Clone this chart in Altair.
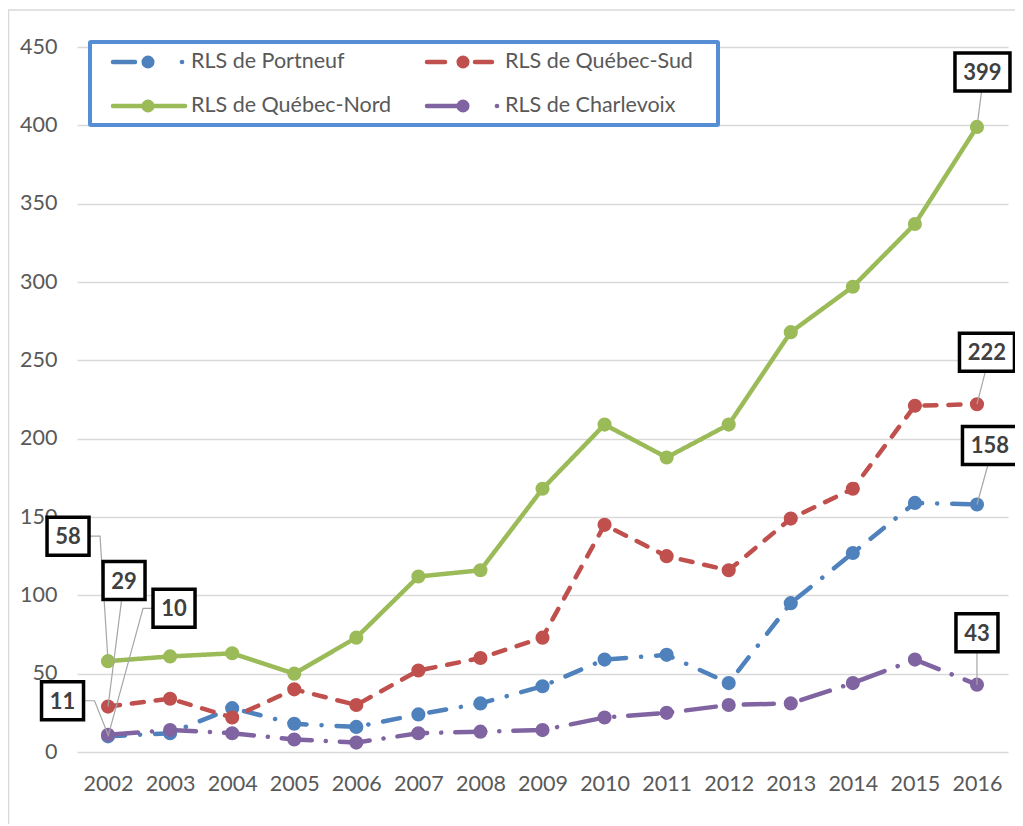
import altair as alt
import pandas as pd

# ---------------- data ----------------
years = list(range(2002, 2017))
series_names = ["RLS de Portneuf", "RLS de Québec-Sud", "RLS de Québec-Nord", "RLS de Charlevoix"]
portneuf = [10, 12, 28, 18, 16, 24, 31, 42, 59, 62, 44, 95, 127, 159, 158]
quebec_sud = [29, 34, 22, 40, 30, 52, 60, 73, 145, 125, 116, 149, 168, 221, 222]
quebec_nord = [58, 61, 63, 50, 73, 112, 116, 168, 209, 188, 209, 268, 297, 337, 399]
charlevoix = [11, 14, 12, 8, 6, 12, 13, 14, 22, 25, 30, 31, 44, 59, 43]
y_ticks = [0, 50, 100, 150, 200, 250, 300, 350, 400, 450]

colors = ["#4F81BD", "#C0504D", "#9BBB59", "#8064A2"]
dashes = [[17, 15, 0.1, 15], [12, 12], [1, 0], [30, 14, 0.1, 14]]

# data labels (series, year) and box offsets (pixels from the point)
lab_series = ["RLS de Québec-Nord", "RLS de Québec-Sud", "RLS de Portneuf", "RLS de Charlevoix",
              "RLS de Québec-Nord", "RLS de Québec-Sud", "RLS de Portneuf", "RLS de Charlevoix"]
lab_year = [2002, 2002, 2002, 2002, 2016, 2016, 2016, 2016]
lab_dx = [-40, 16, 66, -45.5, 5.5, 10, 13, 0]
lab_dy = [-125, -126, -128, -34, -55, -52, -59, -52]

# ---------------- layout ----------------
W, H = 931, 705
X0, X1 = 2001.5, 2016.5
Y0, Y1 = 0, 450
FONT = "Lato"


def xd(px):  # plot pixel -> year units
    return X0 + px / W * (X1 - X0)


def yd(py):  # plot pixel -> value units
    return Y1 - py / H * (Y1 - Y0)


def xp(v):
    return (v - X0) / (X1 - X0) * W


def yp(v):
    return (Y1 - v) / (Y1 - Y0) * H


series_values = dict(zip(series_names, [portneuf, quebec_sud, quebec_nord, charlevoix]))
rows = []
for s in series_names:
    for yr, v in zip(years, series_values[s]):
        rows.append({"series": s, "year": yr, "value": v})
df = pd.DataFrame(rows)

xscale = alt.Scale(domain=[X0, X1], nice=False, zero=False)
yscale = alt.Scale(domain=[Y0, Y1], nice=False, zero=False)
cscale = alt.Scale(domain=series_names, range=colors)
dscale = alt.Scale(domain=series_names, range=dashes)

xaxis = alt.Axis(values=years, format="d", title=None, grid=False, domain=False, ticks=False,
                 labelFont=FONT, labelFontSize=21.5, labelColor="#595959", labelPadding=21)
yaxis = alt.Axis(values=y_ticks, title=None, grid=True, gridColor="#D9D9D9", gridWidth=1.3,
                 domain=False, ticks=False, labelFont=FONT, labelFontSize=21.5,
                 labelColor="#595959", labelPadding=20)


def X(f):
    return alt.X(f, scale=xscale, axis=xaxis, title=None)


def Y(f):
    return alt.Y(f, scale=yscale, axis=yaxis, title=None)


# outer frame (only left/top edges visible)
frame_df = pd.DataFrame([{"x": xd(-68.5), "x2": xd(W + 60), "y": yd(-37), "y2": yd(H + 120)}])
frame = alt.Chart(frame_df).mark_rect(fillOpacity=0, stroke="#D9D9D9", strokeWidth=1.5).encode(
    x=X("x:Q"), x2="x2:Q", y=Y("y:Q"), y2="y2:Q")

base = alt.Chart(df).encode(
    x=X("year:Q"),
    y=Y("value:Q"),
    color=alt.Color("series:N", scale=cscale, legend=None),
)
lines = base.mark_line(strokeWidth=4.5, strokeCap="round", strokeJoin="round").encode(
    strokeDash=alt.StrokeDash("series:N", scale=dscale, legend=None))
points = base.mark_circle(size=200, opacity=1)

# ---------------- legend (custom) ----------------
leg_box_df = pd.DataFrame([{"x": xd(13), "x2": xd(641), "y": yd(-5), "y2": yd(78)}])
leg_box = alt.Chart(leg_box_df).mark_rect(fill="white", stroke="#558ED5", strokeWidth=4,
                                          cornerRadius=1).encode(
    x=X("x:Q"), x2="x2:Q", y=Y("y:Q"), y2="y2:Q")

col_x = [0, 315]
row_y = [15, 59]
entry_pos = {"RLS de Portneuf": (0, 0), "RLS de Québec-Sud": (1, 0),
             "RLS de Québec-Nord": (0, 1), "RLS de Charlevoix": (1, 1)}
# symbol pieces relative to column start: segments, circle, dot
leg_segments = {"RLS de Portneuf": [(36, 58)], "RLS de Québec-Sud": [(35, 53), (83, 100)],
                "RLS de Québec-Nord": [(36, 108)], "RLS de Charlevoix": [(35, 72)]}
leg_circle = {"RLS de Portneuf": 71, "RLS de Québec-Sud": 71, "RLS de Québec-Nord": 71,
              "RLS de Charlevoix": 71}
leg_dot = {"RLS de Portneuf": 105, "RLS de Charlevoix": 105}
leg_text_x = {"RLS de Portneuf": 114, "RLS de Québec-Sud": 113, "RLS de Québec-Nord": 114,
              "RLS de Charlevoix": 113}

seg_rows, circ_rows, dot_rows, txt_rows = [], [], [], []
for s in series_names:
    c, r = entry_pos[s]
    ox = col_x[c]
    yy = yd(row_y[r])
    for a, b in leg_segments[s]:
        seg_rows.append({"series": s, "x": xd(ox + a), "x2": xd(ox + b), "y": yy})
    circ_rows.append({"series": s, "x": xd(ox + leg_circle[s]), "y": yy})
    if s in leg_dot:
        dot_rows.append({"series": s, "x": xd(ox + leg_dot[s]), "y": yy})
    txt_rows.append({"series": s, "x": xd(ox + leg_text_x[s]), "y": yy})

leg_seg = alt.Chart(pd.DataFrame(seg_rows)).mark_rule(strokeWidth=4.5, strokeCap="round").encode(
    x=X("x:Q"), x2="x2:Q", y=Y("y:Q"),
    color=alt.Color("series:N", scale=cscale, legend=None))
leg_circ = alt.Chart(pd.DataFrame(circ_rows)).mark_circle(size=170, opacity=1).encode(
    x=X("x:Q"), y=Y("y:Q"),
    color=alt.Color("series:N", scale=cscale, legend=None))
leg_dot_l = alt.Chart(pd.DataFrame(dot_rows)).mark_circle(size=22, opacity=1).encode(
    x=X("x:Q"), y=Y("y:Q"),
    color=alt.Color("series:N", scale=cscale, legend=None))
leg_txt = alt.Chart(pd.DataFrame(txt_rows)).mark_text(
    align="left", baseline="middle", font=FONT, fontSize=21.5, color="#595959").encode(
    x=X("x:Q"), y=Y("y:Q"), text="series:N")

# ---------------- data labels ----------------
box_rows, lead_rows, ltxt_rows = [], [], []
for i, (s, yr, dx, dy) in enumerate(zip(lab_series, lab_year, lab_dx, lab_dy)):
    v = series_values[s][years.index(yr)]
    txt = str(v)
    px, py = xp(yr), yp(v)
    cx, cy = px + dx, py + dy
    bw, bh = 16 + 13 * len(txt), 38
    box_rows.append({"x": xd(cx - bw / 2), "x2": xd(cx + bw / 2),
                     "y": yd(cy - bh / 2), "y2": yd(cy + bh / 2)})
    ltxt_rows.append({"x": xd(cx), "y": yd(cy), "t": txt})
    if abs(dx) < bw / 2:
        pts = [(cx + (px - cx) * 0.15, cy + bh / 2), (px, py)]
    elif dx < 0:
        pts = [(cx + bw / 2, cy), (cx + bw / 2 + 11, cy), (px, py)]
    else:
        pts = [(cx - bw / 2, cy), (cx - bw / 2 - 10, cy), (px, py)]
    for k, (qx, qy) in enumerate(pts):
        lead_rows.append({"id": i, "k": k, "x": xd(qx), "y": yd(qy)})

leaders = alt.Chart(pd.DataFrame(lead_rows)).mark_line(color="#A6A6A6", strokeWidth=1.2).encode(
    x=X("x:Q"), y=Y("y:Q"), detail="id:N", order="k:Q")
boxes = alt.Chart(pd.DataFrame(box_rows)).mark_rect(fill="white", stroke="black", strokeWidth=3.5).encode(
    x=X("x:Q"), x2="x2:Q", y=Y("y:Q"), y2="y2:Q")
box_txt = alt.Chart(pd.DataFrame(ltxt_rows)).mark_text(
    align="center", baseline="middle", font=FONT, fontSize=22, fontWeight="bold",
    color="#404040", dy=1).encode(
    x=X("x:Q"), y=Y("y:Q"), text="t:N")

chart = alt.layer(
    frame, lines, points, leg_box, leg_seg, leg_circ, leg_dot_l, leg_txt,
    leaders, boxes, box_txt
).properties(
    width=W, height=H, autosize="none",
    padding={"left": 69, "top": 39, "right": 7, "bottom": 72},
    background="white",
).configure_view(stroke=None)

chart.save("out.html", embed_options={"renderer": "svg", "actions": False})
